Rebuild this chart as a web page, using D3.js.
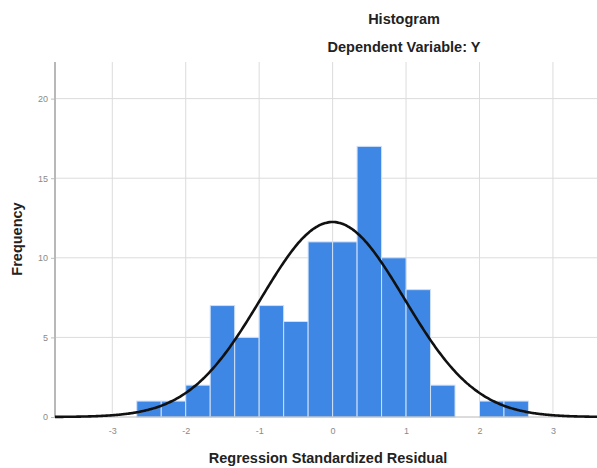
<!DOCTYPE html>
<html>
<head>
<meta charset="utf-8">
<script src="https://cdn.jsdelivr.net/npm/d3@7/dist/d3.min.js"></script>
<style>
  html, body { margin: 0; padding: 0; background: #fff; }
  svg { display: block; }
  text { font-family: "Liberation Sans", Arial, sans-serif; }
</style>
</head>
<body>
<svg id="chart" width="597" height="468"></svg>
<script>
// Histogram bins (edges in standardized-residual units) and frequencies
const binStarts = [-8/3, -7/3, -6/3, -5/3, -4/3, -3/3, -2/3, -1/3, 0, 1/3, 2/3, 3/3, 4/3, 5/3, 6/3, 7/3];
const binWidth = 1/3;
const counts = [1, 1, 2, 7, 5, 7, 6, 11, 11, 17, 10, 8, 2, 0, 1, 1];
const xTicks = [-3, -2, -1, 0, 1, 2, 3];
const yTicks = [0, 5, 10, 15, 20];
const mean = 0.0;
const stdDev = 0.977;
const N = 90;
const titleLines = ["Histogram", "Dependent Variable: Y"];

(function () {
const svg = d3.select("#chart");
const pL = 55, pR = 597, pT = 62, pB = 417;

const x = d3.scaleLinear().domain([-3.78, 3.6]).range([pL, pR]);
const y = d3.scaleLinear().domain([0, 22.3]).range([pB, pT]);

// grid
const g = svg.append("g");
g.selectAll("line.hg").data(yTicks.filter(d => d > 0)).enter().append("line")
  .attr("x1", pL).attr("x2", pR)
  .attr("y1", d => y(d)).attr("y2", d => y(d))
  .attr("stroke", "#dcdcdc").attr("stroke-width", 1);
g.selectAll("line.vg").data(xTicks).enter().append("line")
  .attr("x1", d => x(d)).attr("x2", d => x(d))
  .attr("y1", pT).attr("y2", pB)
  .attr("stroke", "#dcdcdc").attr("stroke-width", 1);

// bars
svg.append("g").selectAll("rect")
  .data(counts.map((c, i) => ({s: binStarts[i], c})).filter(d => d.c > 0))
  .enter().append("rect")
  .attr("x", d => x(d.s))
  .attr("width", d => x(d.s + binWidth) - x(d.s))
  .attr("y", d => y(d.c))
  .attr("height", d => y(0) - y(d.c))
  .attr("fill", "#3f87e4")
  .attr("stroke", "#cfe0f7")
  .attr("stroke-width", 1);

// axes
const yAxis = d3.axisLeft(y).tickValues(yTicks).tickSize(4).tickPadding(3);
const ya = svg.append("g").attr("transform", `translate(${pL},0)`).call(yAxis);
ya.select(".domain").remove();
ya.selectAll(".tick line").attr("stroke", "#bdbdbd");
ya.selectAll(".tick text").attr("fill", "#8a8a8a").style("font-size", "9px")
  .style("font-family", "'Liberation Sans', Arial, sans-serif");

const xAxis = d3.axisBottom(x).tickValues(xTicks).tickSize(0).tickPadding(11)
  .tickFormat(d => String(d));
const xa = svg.append("g").attr("transform", `translate(0,${pB})`).call(xAxis);
xa.select(".domain").remove();
xa.selectAll(".tick text").attr("fill", "#8a8a8a").style("font-size", "9px")
  .style("font-family", "'Liberation Sans', Arial, sans-serif");

svg.append("line").attr("x1", pL).attr("x2", pL).attr("y1", pT).attr("y2", pB)
  .attr("stroke", "#b8b8b8").attr("stroke-width", 2);
svg.append("line").attr("x1", pL).attr("x2", pR).attr("y1", pB).attr("y2", pB)
  .attr("stroke", "#b8b8b8").attr("stroke-width", 1);

// normal curve
const xs = d3.range(x.domain()[0], x.domain()[1] + 0.001, 0.02);
const pdf = v => N * binWidth * Math.exp(-0.5 * ((v - mean) / stdDev) ** 2) / (stdDev * Math.sqrt(2 * Math.PI));
svg.append("path")
  .datum(xs)
  .attr("d", d3.line().x(d => x(d)).y(d => y(pdf(d))).curve(d3.curveBasis))
  .attr("fill", "none").attr("stroke", "#111").attr("stroke-width", 2.6);

// titles
svg.append("text").attr("x", 404).attr("y", 24).attr("text-anchor", "middle")
  .style("font-size", "14.5px").style("font-weight", "bold").attr("fill", "#222").text(titleLines[0]);
svg.append("text").attr("x", 404).attr("y", 52).attr("text-anchor", "middle")
  .style("font-size", "14.5px").style("font-weight", "bold").attr("fill", "#222").text(titleLines[1]);

svg.append("text").attr("transform", "translate(22,239) rotate(-90)").attr("text-anchor", "middle")
  .style("font-size", "14.5px").style("font-weight", "bold").attr("fill", "#222").text("Frequency");
svg.append("text").attr("x", 328).attr("y", 463).attr("text-anchor", "middle")
  .style("font-size", "14.5px").style("font-weight", "bold").attr("fill", "#222").text("Regression Standardized Residual");
})();
</script>
</body>
</html>
